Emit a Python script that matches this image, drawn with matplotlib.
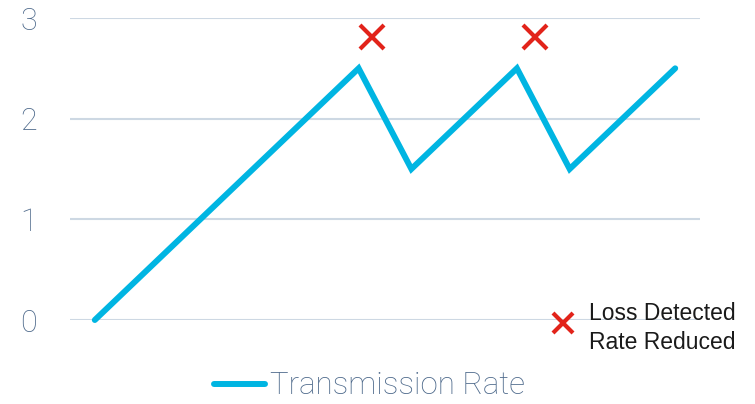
import matplotlib.pyplot as plt

# transmission rate over time steps
steps = list(range(12))
rate = [0, 0.5, 1.0, 1.5, 2.0, 2.5, 1.5, 2.0, 2.5, 1.5, 2.0, 2.5]

# where loss was detected
loss_steps = [5.25, 8.35]
loss_level = [2.81, 2.81]

yticks = [0, 1, 2, 3]

blue = "#00b5e2"
red = "#e2231a"
slate = "#4d698b"
grid = "#cdd8e3"

plt.rcParams["font.family"] = ["Roboto", "DejaVu Sans"]

fig = plt.figure(figsize=(7.55, 4.04), dpi=100)
ax = fig.add_axes([70 / 755, 1 - 320 / 404, 630 / 755, 302 / 404])

for y in yticks:
    ax.axhline(y, color=grid, lw=1.5, zorder=1)

ax.plot(steps, rate, color=blue, lw=4.3, solid_capstyle="round",
        solid_joinstyle="miter", clip_on=False, zorder=3,
        label="Transmission Rate")
ax.plot(loss_steps, loss_level, ls="none", marker="x", ms=17, mew=3,
        color=red, clip_on=False, zorder=4)

ax.set_xlim(-0.47, 11.47)
ax.set_ylim(0, 3)
ax.set_xticks([])
ax.set_yticks(yticks)
ax.set_yticklabels([str(v) for v in yticks], fontsize=22, color=slate,
                   fontweight="light")
ax.tick_params(axis="y", length=0, pad=24)
for s in ax.spines.values():
    s.set_visible(False)

leg = fig.legend(loc="center", bbox_to_anchor=(0.489, 1 - 386 / 404),
                 frameon=False, fontsize=22.5, handlelength=1.65,
                 handletextpad=0.15, borderpad=0)
for t in leg.get_texts():
    t.set_color(slate)
    t.set_fontweight("light")

# key for the loss markers
fig.lines.append(plt.Line2D([563 / 755], [1 - 323 / 404], transform=fig.transFigure,
                            ls="none", marker="x", ms=15, mew=3, color=red))
fig.text(589 / 755, 1 - 328 / 404, "Loss Detected\nRate Reduced",
         ha="left", va="center", fontsize=16.5, color="#1a1a1a",
         family="Liberation Sans", linespacing=1.3)

fig.savefig("out.png", dpi=100)
